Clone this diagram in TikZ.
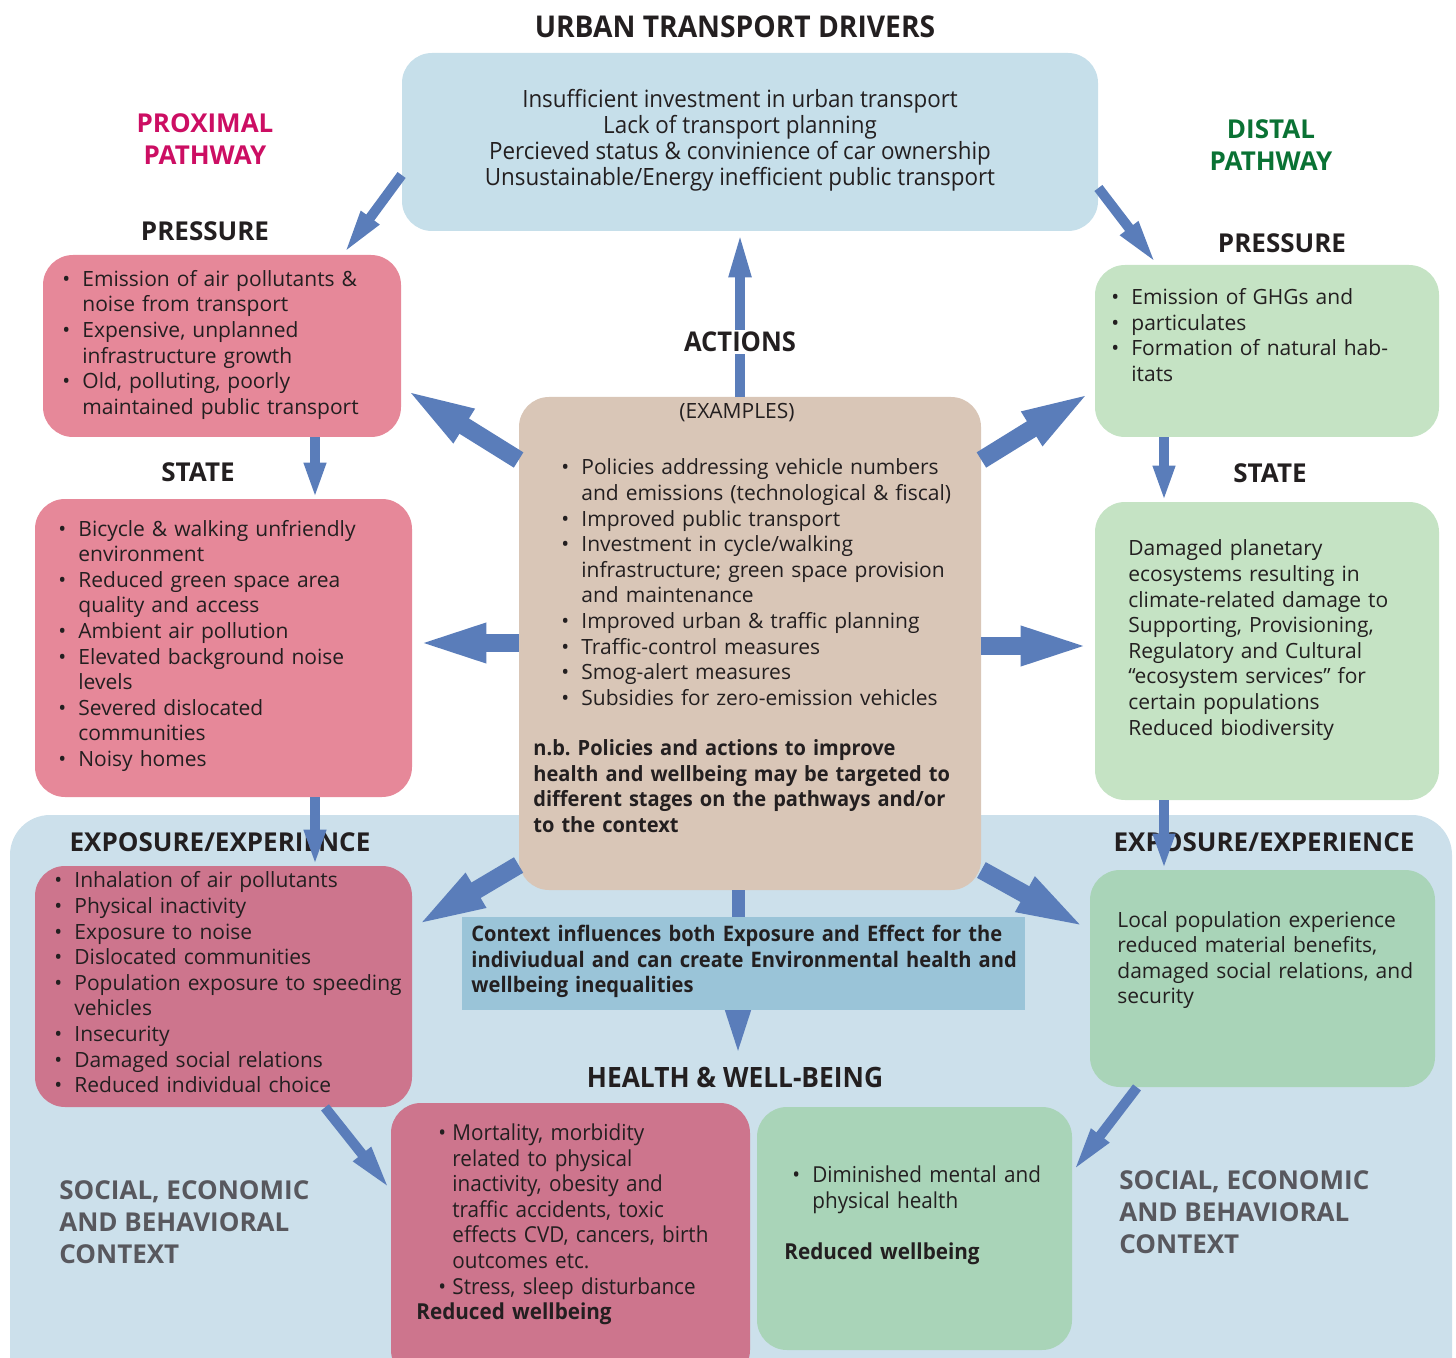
\documentclass[tikz,border=0pt]{standalone}
\usepackage{fontspec}
\setmainfont{Open Sans}
\newfontfamily\cond{Open Sans}[FakeStretch=0.94]
\newfontfamily\nbfont{Open Sans}[FakeStretch=0.955]
\usetikzlibrary{arrows.meta,calc}
\frenchspacing

\definecolor{ink}{HTML}{231F20}
\definecolor{drvblue}{HTML}{C6DFEA}
\definecolor{proxpink}{HTML}{E68899}
\definecolor{proxdark}{HTML}{CD758D}
\definecolor{distpale}{HTML}{C5E3C4}
\definecolor{distmid}{HTML}{A9D4B8}
\definecolor{actbeige}{HTML}{D9C6B7}
\definecolor{ctxbg}{HTML}{CCE0EB}
\definecolor{ctxbox}{HTML}{9AC4D8}
\definecolor{arrblue}{HTML}{5A7DBA}
\definecolor{proxtitle}{HTML}{CC0E63}
\definecolor{disttitle}{HTML}{0A7234}
\definecolor{ctxgray}{HTML}{58585E}

\newlength\bulind
\setlength\bulind{10pt}
\newcommand\bul[1]{\par\hangindent=\bulind\hangafter=1\noindent\hbox to\bulind{\textbullet\hfil}#1\par}

\begin{document}
\begin{tikzpicture}[x=0.5pt, y=-0.5pt, font=\fontsize{10.5}{12.8}\selectfont, every node/.style={text=ink},
  box/.style={rounded corners=15pt, inner sep=0pt},
  txt/.style={align=left, inner sep=0pt, anchor=west, text width=200pt},
  head/.style={font=\fontsize{13}{16}\selectfont\bfseries},
  condhead/.style={font=\fontsize{13.6}{16}\selectfont\cond\bfseries},
  thin/.style={draw=arrblue, line width=5pt, -{Triangle[length=23pt,width=10pt]}},
  short/.style={draw=arrblue, line width=5pt, -{Triangle[length=18pt,width=10pt]}},
  thick/.style={draw=arrblue, line width=9pt, -{Triangle[length=37pt,width=17pt]}}]
\useasboundingbox (0,0) rectangle (1456,1358);
\clip (0,0) rectangle (1456,1358);

% context background
\fill[ctxbg, rounded corners=20pt] (10,815) rectangle (1452,1420);

% boxes
\node[box, fill=drvblue, minimum width=348pt, minimum height=89pt] (drv) at (750,142) {};
\node[box, fill=proxpink, minimum width=179pt, minimum height=91pt] (lpress) at (222,346) {};
\node[box, fill=proxpink, minimum width=188.5pt, minimum height=149pt] (lstate) at (223.5,648) {};
\node[box, fill=proxdark, minimum width=188.5pt, minimum height=120.5pt] (lexp) at (223.5,986.5) {};
\node[box, fill=distpale, minimum width=172pt, minimum height=86pt] (rpress) at (1267,351) {};
\node[box, fill=distpale, minimum width=172pt, minimum height=149pt] (rstate) at (1267,651) {};
\node[box, fill=distmid, minimum width=172.5pt, minimum height=108.5pt] (rexp) at (1262.5,978.5) {};
\node[box, fill=actbeige, minimum width=231pt, minimum height=246.5pt] (acts) at (750,643.5) {};
\node[box, fill=proxdark, minimum width=179.5pt, minimum height=138.5pt] (lhlth) at (570.5,1241.5) {};
\node[box, fill=distmid, minimum width=157.5pt, minimum height=121.5pt] (rhlth) at (914.5,1228.5) {};

% titles
\node[condhead, font=\fontsize{15}{16}\selectfont\cond\bfseries] (drvh) at (735,27) {URBAN TRANSPORT DRIVERS};
\node[head, text=proxtitle, align=center] (prox) at (205,139) {PROXIMAL\\PATHWAY};
\node[head, text=disttitle, align=center] (dist) at (1271,145.5) {DISTAL\\PATHWAY};
\node[head] (lpressh) at (205,231) {PRESSURE};
\node[head] (lstateh) at (198,472) {STATE};
\node[head] (lexph) at (220,842) {EXPOSURE/EXPERIENCE};
\node[head] (rpressh) at (1282,243) {PRESSURE};
\node[head] (rstateh) at (1270,473) {STATE};
\node[head] (rexph) at (1264,842) {EXPOSURE/EXPERIENCE};
\node[condhead, font=\fontsize{14}{16}\selectfont\cond\bfseries] (hw) at (735,1077) {HEALTH \& WELL-BEING};
\node[head, text=ctxgray, align=left, anchor=west, inner sep=0pt] (socl) at (59,1222) {SOCIAL, ECONOMIC\\AND BEHAVIORAL\\CONTEXT};
\node[head, text=ctxgray, align=left, anchor=west, inner sep=0pt] (socr) at (1119,1212) {SOCIAL, ECONOMIC\\AND BEHAVIORAL\\CONTEXT};

% box texts
\node[font=\fontsize{11.9}{13}\selectfont\cond, align=center] (drvt) at (740,140) {Insufficient investment in urban transport\\Lack of transport planning\\Percieved status \& convinience of car ownership\\Unsustainable/Energy inefficient public transport};
\node[txt] (lpresst) at (62,340) {\bul{Emission of air pollutants \&\newline noise from transport}\bul{Expensive, unplanned\newline infrastructure growth}\bul{Old, polluting, poorly\newline maintained public transport}};
\node[txt] (lstatet) at (58,641) {\bul{Bicycle \& walking unfriendly\newline environment}\bul{Reduced green space area\newline quality and access}\bul{Ambient air pollution}\bul{Elevated background noise\newline levels}\bul{Severed dislocated\newline communities}\bul{Noisy homes}};
\node[txt] (lexpt) at (54,977.5) {\bul{Inhalation of air pollutants}\bul{Physical inactivity}\bul{Exposure to noise}\bul{Dislocated communities}\bul{Population exposure to speeding\newline vehicles}\bul{Insecurity}\bul{Damaged social relations}\bul{Reduced individual choice}};
\node[txt] (rpresst) at (1111,330.5) {\bul{Emission of GHGs and}\bul{particulates}\bul{Formation of natural hab-\newline itats}};
\node[txt] (rstatet) at (1128,640) {Damaged planetary\\ecosystems resulting in\\climate-related damage to\\Supporting, Provisioning,\\Regulatory and Cultural\\``ecosystem services'' for\\certain populations\\Reduced biodiversity};
\node[txt] (rexpt) at (1117,960) {Local population experience\\reduced material benefits,\\damaged social relations, and\\security};
\node (exmp) at (737,413) {(EXAMPLES)};
\node[txt, text width=230pt] (actst) at (533,641) {{\leftskip=14pt \bul{Policies addressing vehicle numbers\newline and emissions (technological \& fiscal)}\bul{Improved public transport}\bul{Investment in cycle/walking\newline infrastructure; green space provision\newline and maintenance}\bul{Improved urban \& traffic planning}\bul{Traffic-control measures}\bul{Smog-alert measures}\bul{Subsidies for zero-emission vehicles}\par}\vspace{12.4pt}\noindent{\nbfont\bfseries n.b. Policies and actions to improve\\health and wellbeing may be targeted to\\different stages on the pathways and/or\\to the context}};
\node[txt, font=\fontsize{11}{12.8}\selectfont\cond] (lhltht) at (416,1220) {{\leftskip=11pt \setlength\bulind{7pt}\bul{Mortality, morbidity\newline related to physical\newline inactivity, obesity and\newline traffic accidents, toxic\newline effects CVD, cancers, birth\newline outcomes etc.}\bul{Stress, sleep disturbance}\par}\noindent\textbf{Reduced wellbeing}};
\node[txt, font=\fontsize{11}{12.8}\selectfont\cond] (rhltht) at (784,1211) {{\leftskip=4pt \bul{Diminished mental and\newline physical health}\par}\vspace{12.8pt}\noindent\textbf{Reduced wellbeing}};

% arrows
\draw[thin] (drv.west |- 0,175) -- (lpress.north -| 343,0);
\draw[thin] (drv.east |- 0,188) -- (rpress.north -| 1157,0);
\draw[thin] (acts.north -| 740,0) -- (drv.south -| 740,0);
\draw[thick] (acts.west |- 0,460) -- (lpress.east |- 0,387);
\draw[thick] (acts.east |- 0,460) -- (rpress.west |- 0,390);
\draw[thick] (acts.west |- 0,643) -- (lstate.east |- 0,643);
\draw[thick] (acts.east |- 0,646) -- (rstate.west |- 0,646);
\draw[thick] (acts.west |- 0,865) -- (lexp.east |- 0,928);
\draw[thick] (acts.east |- 0,870) -- (rexp.west |- 0,930);
\draw[draw=arrblue, line width=6.5pt, -{Triangle[length=27pt,width=12pt]}] (acts.south -| 738,0) -- (hw.north -| 738,0);
\draw[short] (lpress.south -| 315,0) -- (lstate.north -| 315,0);
\draw[short] (lstate.south -| 315,0) -- (lexp.north -| 315,0);
\draw[short] (rpress.south -| 1164,0) -- (rstate.north -| 1164,0);
\draw[short] (rstate.south -| 1164,0) -- (rexp.north -| 1164,0);
\draw[thin] (lexp.south -| 325,0) -- (lhlth.west |- 387,1190);
\draw[thin] (rexp.south -| 1137,0) -- (rhlth.east |- 0,1172);

% context note and actions label on top
\node[fill=ctxbox, minimum width=281.5pt, minimum height=46.5pt, inner sep=0pt] (ctx) at (743.5,963.5) {};
\node[txt, text width=300pt, font=\fontsize{10.7}{12.8}\selectfont\cond\bfseries] (ctxt) at (471,961.5) {Context influences both Exposure and Effect for the\\indiviudual and can create Environmental health and\\wellbeing inequalities};
\node[condhead, fill=white, inner sep=1pt] (actsh) at (740,342) {ACTIONS};
\end{tikzpicture}
\end{document}
